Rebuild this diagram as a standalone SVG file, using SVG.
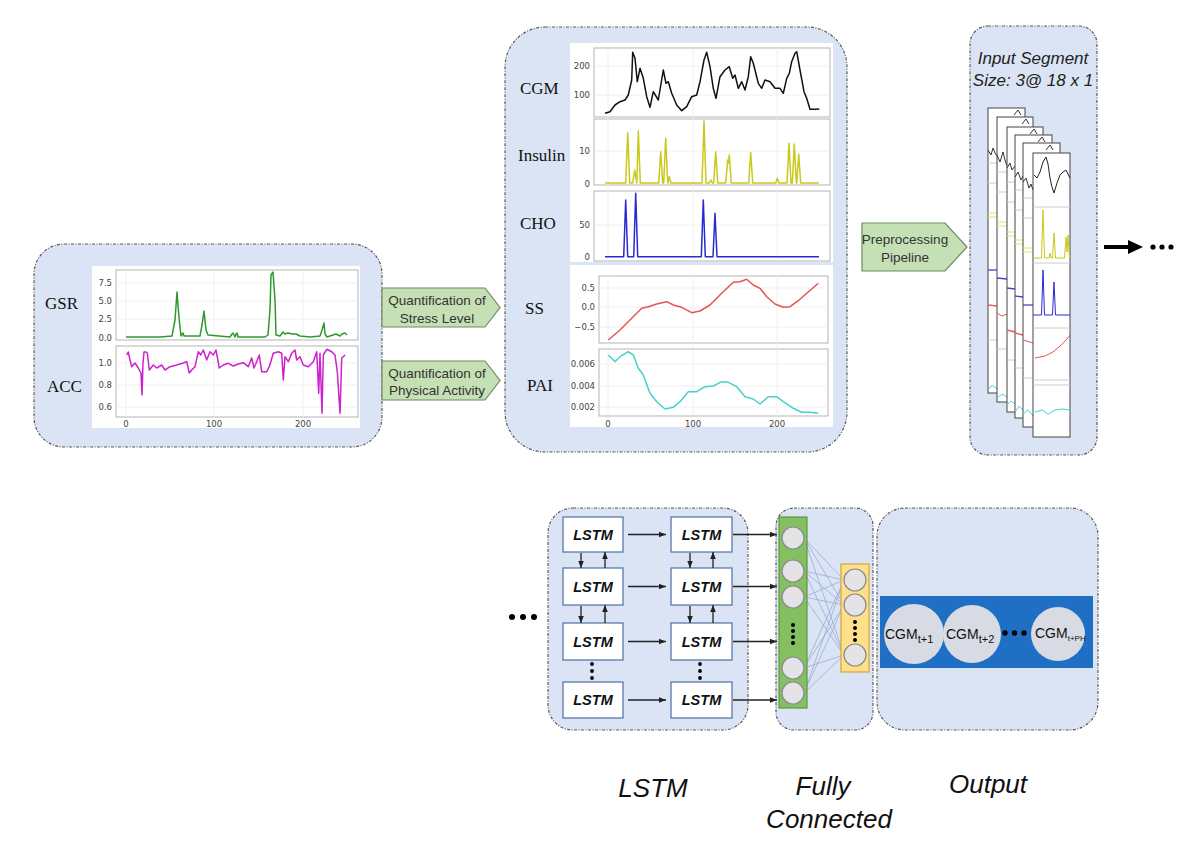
<svg xmlns="http://www.w3.org/2000/svg" width="1200" height="846" viewBox="0 0 1200 846">
<style>
.panel{fill:#dbe4f4;stroke:#5a5a5a;stroke-width:1.2;stroke-dasharray:3 1.5 1 1.5}
.bg{fill:#fff}
.frame{fill:#fff;stroke:#b3b3b3;stroke-width:1}
.grid{stroke:#ececec;stroke-width:0.8}
.tick{font-family:"DejaVu Sans",sans-serif;font-size:8.5px;fill:#444}
.tr{text-anchor:end}
.tm{text-anchor:middle}
.ylab{font-family:"Liberation Serif",serif;font-size:17px;fill:#111}
.pent{fill:#c5e0b4;stroke:#6e8a62;stroke-width:1.2}
.ptxt{font-family:"Liberation Sans",Arial,sans-serif;font-size:13.5px;fill:#333;text-anchor:middle}
.lbox{fill:#fff;stroke:#5a78a8;stroke-width:1.3}
.ltxt{font-family:"Liberation Sans",Arial,sans-serif;font-weight:bold;font-style:italic;font-size:14.5px;text-anchor:middle;fill:#111}
.conn{stroke:#222;stroke-width:1.3;fill:none;marker-end:url(#ah)}
.neu{fill:#e4e4e6;stroke:#8a8a8a;stroke-width:1.2}
.fcl{stroke:#8ea5cf;stroke-width:0.7}
.cap{font-family:"Liberation Sans",Arial,sans-serif;font-style:italic;font-size:26px;text-anchor:middle;fill:#111}
.seg{font-family:"Liberation Sans",Arial,sans-serif;font-style:italic;font-size:17px;text-anchor:middle;fill:#222}
.cgm{font-family:"Liberation Sans",Arial,sans-serif;font-size:14px;fill:#111}
.sf{fill:#fff;stroke:#444;stroke-width:1}
.ln{fill:none;stroke-width:1.5;stroke-linejoin:round}
.thin{fill:none;stroke-width:1}
</style>
<defs>
<marker id="ah" markerUnits="userSpaceOnUse" viewBox="0 0 10 10" markerWidth="7" markerHeight="7" refX="10" refY="5" orient="auto">
<path d="M0,1 L10,5 L0,9 z" fill="#222"/>
</marker>
</defs>
<rect width="1200" height="846" fill="#fff"/>

<!-- Left panel: raw signals -->
<g id="raw-signals">
<rect class="panel" x="34" y="244" width="348" height="203" rx="30"/>
<rect class="bg" x="92" y="266" width="268" height="162"/>
<rect class="frame" x="116" y="270" width="242" height="70"/>
<rect class="frame" x="116" y="346" width="242" height="71"/>
<g class="grid">
<line x1="126" y1="270" x2="126" y2="417"/><line x1="214" y1="270" x2="214" y2="417"/><line x1="303" y1="270" x2="303" y2="417"/>
<line x1="116" y1="283" x2="358" y2="283"/><line x1="116" y1="301" x2="358" y2="301"/><line x1="116" y1="319" x2="358" y2="319"/>
<line x1="116" y1="363" x2="358" y2="363"/><line x1="116" y1="385" x2="358" y2="385"/><line x1="116" y1="407" x2="358" y2="407"/>
</g>
<text class="ylab" x="45" y="309">GSR</text>
<text class="ylab" x="47" y="392">ACC</text>
<g class="tick tr">
<text x="112" y="286">7.5</text><text x="112" y="304">5.0</text><text x="112" y="322">2.5</text><text x="112" y="341">0.0</text>
<text x="112" y="366">1.0</text><text x="112" y="388">0.8</text><text x="112" y="410">0.6</text>
</g>
<g class="tick tm"><text x="126" y="427">0</text><text x="214" y="427">100</text><text x="303" y="427">200</text></g>
<polyline class="ln" stroke="#2e9a2e" points="126,337 160,337 172,336 175,320 177,292 179,318 181,336 183,333 184,336 200,336 202,325 204,311 206,330 208,335 230,337 232,334 233,333 235,337 236,334 237,333 238,337 265,337 268,335 270,310 271,275 273,272 275,300 276,335 280,336 283,332 285,334 288,333 292,334 296,334 300,336 310,337 320,336 322,330 324,323 325,334 327,337 330,336 336,334 340,336 342,334 345,333 347,335"/>
<polyline class="ln" stroke="#cc22cc" points="126.7,355 128.3,352 130,360 131.7,366.7 135,363 138.3,368 141,373 142,395 143,363 144,352 146,352 147.3,353 149.3,370 153.3,365 156.7,368 161.7,365 165,370 170,366.7 176.7,365 183.3,363 186.7,361.7 189.3,373 191.7,370 195,366.7 198.3,351.7 200.7,355 203.3,350 206.7,360 210,351.7 213.3,355 216,350 219.3,368 223.3,365 228.3,363.3 233.3,366 238.3,364 243.3,362.7 248.3,366.7 251.7,358 254,368 256.7,361.7 259.3,355 261.7,371.7 266.7,371.7 269.3,366.7 273.3,353.3 278.3,351.7 281.7,353.3 283.3,380 285,356.7 288.3,361.7 291.7,353.3 295,350 296.7,360 300,356.7 303.3,365 308.3,366.7 313.3,361.7 316.7,351.7 318.7,393.3 320,353.3 322,413.3 323.3,355 326.7,349.3 331.7,351.7 335,355 337.3,371.7 340,413.3 341.7,358.3 345,355"/>
</g>

<!-- Quantification arrows -->
<g id="quant-stress">
<polygon class="pent" points="382,288 485,288 500,307.5 485,327 382,327"/>
<text class="ptxt" x="437" y="304.5">Quantification of</text>
<text class="ptxt" x="437" y="322.5">Stress Level</text>
</g>
<g id="quant-activity">
<polygon class="pent" points="382,361 485,361 500,380.5 485,400 382,400"/>
<text class="ptxt" x="437" y="377.5">Quantification of</text>
<text class="ptxt" x="437" y="395">Physical Activity</text>
</g>

<!-- Middle panel: features -->
<g id="features">
<rect class="panel" x="505" y="27" width="342" height="425" rx="40"/>
<rect class="bg" x="570" y="43" width="263" height="219"/>
<rect class="bg" x="570" y="265" width="263" height="162"/>
<rect class="frame" x="594" y="48" width="236" height="69"/>
<rect class="frame" x="594" y="119" width="236" height="66"/>
<rect class="frame" x="594" y="191" width="236" height="70"/>
<rect class="frame" x="599" y="276" width="229" height="67"/>
<rect class="frame" x="599" y="349" width="229" height="67"/>
<g class="grid">
<line x1="608" y1="48" x2="608" y2="261"/><line x1="693" y1="48" x2="693" y2="261"/><line x1="777" y1="48" x2="777" y2="261"/>
<line x1="608" y1="276" x2="608" y2="416"/><line x1="693" y1="276" x2="693" y2="416"/><line x1="777" y1="276" x2="777" y2="416"/>
<line x1="594" y1="66" x2="830" y2="66"/><line x1="594" y1="95" x2="830" y2="95"/>
<line x1="594" y1="151" x2="830" y2="151"/><line x1="594" y1="225" x2="830" y2="225"/>
<line x1="599" y1="288" x2="828" y2="288"/><line x1="599" y1="307" x2="828" y2="307"/><line x1="599" y1="327" x2="828" y2="327"/>
<line x1="599" y1="364" x2="828" y2="364"/><line x1="599" y1="386" x2="828" y2="386"/><line x1="599" y1="407" x2="828" y2="407"/>
</g>
<text class="ylab" x="520" y="94">CGM</text>
<text class="ylab" x="518" y="161">Insulin</text>
<text class="ylab" x="520" y="229">CHO</text>
<text class="ylab" x="525" y="314">SS</text>
<text class="ylab" x="527" y="391">PAI</text>
<g class="tick tr">
<text x="590" y="69">200</text><text x="590" y="98">100</text>
<text x="590" y="154">10</text><text x="590" y="187">0</text>
<text x="590" y="228">50</text><text x="590" y="260">0</text>
<text x="595" y="291">0.5</text><text x="595" y="310">0.0</text><text x="595" y="330">−0.5</text>
<text x="595" y="367">0.006</text><text x="595" y="389">0.004</text><text x="595" y="410">0.002</text>
</g>
<g class="tick tm"><text x="608" y="427">0</text><text x="693" y="427">100</text><text x="777" y="427">200</text></g>
<polyline class="ln" stroke="#111" points="605,113.3 610,111.7 615,105 620,101.7 625,100 628.3,95 631.7,80 632.7,52.3 635,58.3 637.3,81.7 640,68.3 643.3,78.3 646.7,96.7 650,107.3 653.3,91.7 658.3,100 663.3,70 666,83.3 668.3,81.7 671.7,93.3 676.7,105 681.7,110.7 686.7,106.7 691.7,96.7 696.7,95 700,81.7 704,60 706.7,52.3 710,66.7 713.3,88.3 716,98.3 720,76.7 725,70 729.3,66.7 732.7,78.3 735,75 738.3,88.3 741.7,81.7 745,90 748.3,76.7 750.7,56.7 753.3,63.3 758.3,83.3 761.7,88.3 765,80 770,81.7 775,88.3 780,88.3 783.3,93.3 786.7,78.3 789.3,73.3 791.7,61.7 795,53.3 796.7,51.7 800,70 804,91.7 806.7,98.3 810,109.3 815,109.3 819.3,109"/>
<polyline class="ln" stroke="#c9c91a" points="605,183 625.7,183 627.7,132.7 629.7,183 632.7,183 634.7,170 636.7,183 636.8,183 638.3,131 640.3,183 658.7,183 660.7,151.7 662.7,183 663.7,183 665.7,138.3 667.7,183 667.8,183 669.3,176.7 671,183 702,183 704,121 706,183 709.5,183 711,180 712.5,183 713.7,183 715.7,151.7 717.7,183 725.7,183 727.7,160 728.5,163 729.3,155 731.3,183 748.7,183 750.7,152.7 752.7,183 775.7,183 777.3,178.3 779,183 787,183 789,143.3 791,183 792.3,183 794.3,144 796.3,183 796.7,183 798.7,154.3 800.7,183 819,183"/>
<polyline class="ln" stroke="#2a2ad0" points="605,256.7 623.7,256.7 625.7,200 627.7,256.7 633.7,256.7 635.7,193.3 637.7,256.7 701.3,256.7 703.3,200 705.3,256.7 713,256.7 715,213.3 717,256.7 819,256.7"/>
<polyline class="ln" stroke="#e25555" points="608.3,340 620,330 631.7,318.3 641.7,308.3 648.3,306.7 656.7,304 666.7,301.7 673.3,305 681.7,307.3 691.7,312.7 700,311 710,305 721.7,293.3 733.3,282.3 740,281.7 746.7,279.3 753.3,285 760,288.3 766.7,296.7 775,304 783.3,307.3 790,306.7 798.3,300.7 806.7,293.3 818.3,283.3"/>
<polyline class="ln" stroke="#45d2c8" points="608.3,355 615,361.7 620,356.7 628.3,351.7 633.3,355 638.3,368.3 643.3,375 650,393.3 656.7,401.7 665,409 673.3,407.3 680,401.7 688.3,391.7 696.7,391.7 705,386.7 713.3,386 721.7,381.7 728.3,382.3 736.7,386.7 745,396.7 753.3,399 760,404 768.3,396.7 776.7,396.7 783.3,401.7 793.3,408.3 801.7,412.3 810,412.3 818.3,413.3"/>
</g>

<!-- Preprocessing -->
<g id="preprocessing">
<polygon class="pent" points="862,223 945,223 967,247 945,271 862,271"/>
<text class="ptxt" x="905" y="244">Preprocessing</text>
<text class="ptxt" x="905" y="262">Pipeline</text>
</g>

<!-- Input segments -->
<g id="input-segment">
<rect class="panel" x="970" y="26" width="127" height="429" rx="18"/>
<text class="seg" x="1033" y="64">Input Segment</text>
<text class="seg" x="1033" y="86">Size: 3@ 18 x 1</text>
<g id="seg-back">
<rect class="sf" x="988" y="108" width="37" height="285"/>
<polyline class="thin" stroke="#333" points="1014,115 1018,110 1021,115"/>
<polyline class="thin" stroke="#333" points="988,150 991,155 993,148 995,153 997,156"/>
<line x1="988" y1="163" x2="997" y2="163" stroke="#ccc"/><line x1="988" y1="183" x2="997" y2="183" stroke="#ccc"/>
<line x1="988" y1="213" x2="997" y2="213" stroke="#e2e270"/><line x1="988" y1="217" x2="997" y2="217" stroke="#e2e270"/>
<line x1="988" y1="270" x2="997" y2="270" stroke="#4646d0" stroke-width="1.3"/>
<line x1="988" y1="305" x2="997" y2="306" stroke="#e06060" stroke-width="1.3"/>
<line x1="988" y1="340" x2="997" y2="340" stroke="#ccc"/>
<polyline class="thin" stroke="#50d6cc" stroke-width="1.3" points="988,390 992,385 997,389"/>

<rect class="sf" x="997" y="117" width="36" height="285"/>
<polyline class="thin" stroke="#333" points="1022,124 1026,119 1029,124"/>
<polyline class="thin" stroke="#333" points="997,155 1000,162 1003,152 1005,160 1007,166"/>
<line x1="997" y1="172" x2="1007" y2="172" stroke="#ccc"/><line x1="997" y1="192" x2="1007" y2="192" stroke="#ccc"/>
<line x1="997" y1="222" x2="1007" y2="222" stroke="#e2e270"/><line x1="997" y1="226" x2="1007" y2="226" stroke="#e2e270"/>
<line x1="997" y1="278" x2="1007" y2="279" stroke="#4646d0" stroke-width="1.3"/>
<polyline class="thin" stroke="#e06060" stroke-width="1.3" points="997,313 1002,316 1007,314"/>
<line x1="997" y1="349" x2="1007" y2="349" stroke="#ccc"/>
<polyline class="thin" stroke="#50d6cc" stroke-width="1.3" points="997,398 1002,394 1007,397"/>

<rect class="sf" x="1007" y="127" width="36" height="285"/>
<polyline class="thin" stroke="#333" points="1030,134 1034,129 1037,134"/>
<polyline class="thin" stroke="#333" points="1007,168 1010,163 1012,170 1015,166"/>
<line x1="1007" y1="182" x2="1015" y2="182" stroke="#ccc"/><line x1="1007" y1="202" x2="1015" y2="202" stroke="#ccc"/>
<line x1="1007" y1="232" x2="1015" y2="232" stroke="#e2e270"/><line x1="1007" y1="236" x2="1015" y2="236" stroke="#e2e270"/>
<line x1="1007" y1="288" x2="1015" y2="289" stroke="#4646d0" stroke-width="1.3"/>
<line x1="1007" y1="330" x2="1015" y2="332" stroke="#e06060" stroke-width="1.3"/>
<line x1="1007" y1="360" x2="1015" y2="360" stroke="#ccc"/>
<polyline class="thin" stroke="#50d6cc" stroke-width="1.3" points="1007,405 1011,401 1015,404"/>

<rect class="sf" x="1015" y="135" width="37" height="283"/>
<polyline class="thin" stroke="#333" points="1038,142 1042,137 1045,142"/>
<polyline class="thin" stroke="#333" points="1015,177 1018,172 1021,180 1023,176"/>
<line x1="1015" y1="190" x2="1023" y2="190" stroke="#ccc"/><line x1="1015" y1="210" x2="1023" y2="210" stroke="#ccc"/>
<line x1="1015" y1="240" x2="1023" y2="240" stroke="#e2e270"/><line x1="1015" y1="244" x2="1023" y2="244" stroke="#e2e270"/>
<line x1="1015" y1="296" x2="1023" y2="297" stroke="#4646d0" stroke-width="1.3"/>
<line x1="1015" y1="333" x2="1023" y2="335" stroke="#e06060" stroke-width="1.3"/>
<line x1="1015" y1="368" x2="1023" y2="368" stroke="#ccc"/>
<polyline class="thin" stroke="#50d6cc" stroke-width="1.3" points="1015,412 1019,406 1023,410"/>

<rect class="sf" x="1023" y="143" width="37" height="284"/>
<polyline class="thin" stroke="#333" points="1046,150 1050,145 1053,150"/>
<polyline class="thin" stroke="#333" points="1023,182 1026,178 1029,188 1031,184 1033,190"/>
<line x1="1023" y1="198" x2="1033" y2="198" stroke="#ccc"/><line x1="1023" y1="218" x2="1033" y2="218" stroke="#ccc"/>
<line x1="1023" y1="248" x2="1033" y2="248" stroke="#e2e270"/><line x1="1023" y1="252" x2="1033" y2="252" stroke="#e2e270"/>
<line x1="1023" y1="305" x2="1033" y2="305" stroke="#4646d0" stroke-width="1.3"/>
<line x1="1023" y1="340" x2="1033" y2="343" stroke="#e06060" stroke-width="1.3"/>
<line x1="1023" y1="378" x2="1033" y2="378" stroke="#ccc"/>
<polyline class="thin" stroke="#50d6cc" stroke-width="1.3" points="1023,414 1028,410 1033,416"/>
</g>
<g id="seg-front">
<rect class="sf" x="1033" y="153" width="37" height="284"/>
<polyline class="thin" stroke="#222" stroke-width="1.2" points="1034,175 1037,178 1040,172 1043,162 1046,157 1048,164 1050,178 1052,187 1054,193 1057,183 1060,175 1063,172 1066,170 1070,178"/>
<line x1="1033" y1="207" x2="1070" y2="207" stroke="#ccc"/>
<polyline class="thin" stroke="#c9c91a" stroke-width="1.2" points="1033,258 1041.5,258 1043,210 1044.5,258 1049,258 1050,253 1051,258 1052.5,258 1054,233 1055.5,258 1064.5,258 1066,237 1067,252 1068,235 1069.5,258 1070,258"/>
<line x1="1033" y1="263" x2="1070" y2="263" stroke="#ccc"/>
<polyline class="thin" stroke="#2a2ad0" stroke-width="1.2" points="1033,315 1041.5,315 1043,270 1044.5,315 1052.5,315 1054,282 1055.5,315 1070,315"/>
<line x1="1033" y1="328" x2="1070" y2="328" stroke="#ccc"/>
<polyline class="thin" stroke="#e25555" stroke-width="1.2" points="1035,358 1045,356 1053,352 1060,346 1066,340 1070,335"/>
<line x1="1033" y1="380" x2="1070" y2="380" stroke="#ccc"/><line x1="1033" y1="385" x2="1070" y2="385" stroke="#ccc"/>
<polyline class="thin" stroke="#45d2c8" stroke-width="1.2" points="1035,412 1042,410 1048,414 1055,410 1062,409 1070,410"/>
</g>
</g>

<!-- continuation arrow -->
<g id="continue-right">
<line x1="1104" y1="247" x2="1130" y2="247" stroke="#000" stroke-width="4"/>
<polygon points="1128,240 1143,247 1128,254" fill="#000"/>
<circle cx="1153" cy="247" r="2.6" fill="#000"/><circle cx="1162" cy="247" r="2.6" fill="#000"/><circle cx="1171" cy="247" r="2.6" fill="#000"/>
</g>

<!-- Bottom: LSTM -->
<g id="continue-left">
<circle cx="512" cy="617" r="3" fill="#000"/><circle cx="523" cy="617" r="3" fill="#000"/><circle cx="534" cy="617" r="3" fill="#000"/>
</g>
<g id="lstm-panel">
<rect class="panel" x="548" y="508" width="200" height="222" rx="25"/>
</g>
<g id="lstm-1-1"><rect class="lbox" x="563" y="517" width="60" height="35"/><text class="ltxt" x="593" y="539.5">LSTM</text></g>
<g id="lstm-1-2"><rect class="lbox" x="563" y="568" width="60" height="37"/><text class="ltxt" x="593" y="591.5">LSTM</text></g>
<g id="lstm-1-3"><rect class="lbox" x="563" y="623" width="60" height="37"/><text class="ltxt" x="593" y="646.5">LSTM</text></g>
<g id="lstm-1-4"><rect class="lbox" x="563" y="682" width="60" height="36"/><text class="ltxt" x="593" y="705">LSTM</text></g>
<g id="lstm-2-1"><rect class="lbox" x="671" y="517" width="61" height="35"/><text class="ltxt" x="701.5" y="539.5">LSTM</text></g>
<g id="lstm-2-2"><rect class="lbox" x="671" y="568" width="61" height="37"/><text class="ltxt" x="701.5" y="591.5">LSTM</text></g>
<g id="lstm-2-3"><rect class="lbox" x="671" y="623" width="61" height="37"/><text class="ltxt" x="701.5" y="646.5">LSTM</text></g>
<g id="lstm-2-4"><rect class="lbox" x="671" y="682" width="61" height="36"/><text class="ltxt" x="701.5" y="705">LSTM</text></g>
<g id="lstm-dots" fill="#000">
<circle cx="592" cy="664" r="1.9"/><circle cx="592" cy="671" r="1.9"/><circle cx="592" cy="678" r="1.9"/>
<circle cx="700" cy="664" r="1.9"/><circle cx="700" cy="671" r="1.9"/><circle cx="700" cy="678" r="1.9"/>
</g>

<!-- Fully connected -->
<g id="fc-panel">
<rect class="panel" x="776" y="508" width="97" height="222" rx="18"/>
<g class="fcl">
<line x1="804" y1="538" x2="844" y2="580"/><line x1="804" y1="538" x2="844" y2="605"/><line x1="804" y1="538" x2="844" y2="655"/>
<line x1="804" y1="571" x2="844" y2="580"/><line x1="804" y1="571" x2="844" y2="605"/><line x1="804" y1="571" x2="844" y2="655"/>
<line x1="804" y1="597" x2="844" y2="580"/><line x1="804" y1="597" x2="844" y2="605"/><line x1="804" y1="597" x2="844" y2="655"/>
<line x1="804" y1="668" x2="844" y2="580"/><line x1="804" y1="668" x2="844" y2="605"/><line x1="804" y1="668" x2="844" y2="655"/>
<line x1="804" y1="693" x2="844" y2="580"/><line x1="804" y1="693" x2="844" y2="605"/><line x1="804" y1="693" x2="844" y2="655"/>
</g>
<rect x="779" y="517" width="28" height="191" fill="#84c062" stroke="#5b9840" stroke-width="1.2"/>
<circle class="neu" cx="793" cy="538" r="11"/><circle class="neu" cx="793" cy="571" r="11"/><circle class="neu" cx="793" cy="597" r="11"/>
<circle class="neu" cx="793" cy="668" r="11"/><circle class="neu" cx="793" cy="693" r="11"/>
<g fill="#000"><circle cx="793" cy="625" r="2"/><circle cx="793" cy="631" r="2"/><circle cx="793" cy="637" r="2"/><circle cx="793" cy="643" r="2"/></g>
<rect x="841" y="564" width="28" height="108" fill="#ffe08a" stroke="#d7a23c" stroke-width="1.2"/>
<circle class="neu" cx="855" cy="580" r="11"/><circle class="neu" cx="855" cy="605" r="11"/><circle class="neu" cx="855" cy="655" r="11"/>
<g fill="#000"><circle cx="855" cy="622" r="2"/><circle cx="855" cy="628" r="2"/><circle cx="855" cy="634" r="2"/><circle cx="855" cy="640" r="2"/></g>
</g>

<!-- Output -->
<g id="output-panel">
<rect class="panel" x="877" y="508" width="221" height="222" rx="28"/>
<rect x="880" y="596" width="213" height="72" fill="#1f6fc5"/>
<circle cx="914" cy="634" r="30" fill="#d8dbe4"/>
<circle cx="972" cy="634" r="29" fill="#d8dbe4"/>
<circle cx="1058" cy="634" r="27" fill="#d8dbe4"/>
<text class="cgm" x="885" y="639">CGM<tspan font-size="11" dy="4">t+1</tspan></text>
<text class="cgm" x="946" y="639">CGM<tspan font-size="11" dy="4">t+2</tspan></text>
<text class="cgm" x="1035" y="638" font-size="12">CGM<tspan font-size="8" dy="3">t+PH</tspan></text>
<g fill="#000"><circle cx="1005" cy="633" r="2.7"/><circle cx="1014.5" cy="633" r="2.7"/><circle cx="1024" cy="633" r="2.7"/></g>
</g>

<!-- Connectors -->
<g id="connectors">
<line class="conn" x1="628" y1="534.5" x2="666" y2="534.5"/>
<line class="conn" x1="628" y1="586.5" x2="666" y2="586.5"/>
<line class="conn" x1="628" y1="641.5" x2="666" y2="641.5"/>
<line class="conn" x1="628" y1="700" x2="666" y2="700"/>
<line class="conn" x1="733" y1="534.5" x2="777" y2="534.5"/>
<line class="conn" x1="733" y1="586.5" x2="777" y2="586.5"/>
<line class="conn" x1="733" y1="641.5" x2="777" y2="641.5"/>
<line class="conn" x1="733" y1="700" x2="777" y2="700"/>
<line class="conn" x1="581" y1="553" x2="581" y2="568"/>
<line class="conn" x1="605" y1="568" x2="605" y2="552"/>
<line class="conn" x1="690" y1="553" x2="690" y2="568"/>
<line class="conn" x1="713" y1="568" x2="713" y2="552"/>
<line class="conn" x1="581" y1="606" x2="581" y2="623"/>
<line class="conn" x1="605" y1="623" x2="605" y2="605"/>
<line class="conn" x1="690" y1="606" x2="690" y2="623"/>
<line class="conn" x1="713" y1="623" x2="713" y2="605"/>
</g>

<!-- Captions -->
<g id="captions">
<text class="cap" x="653" y="797">LSTM</text>
<text class="cap" x="823" y="795">Fully</text>
<text class="cap" x="829" y="828">Connected</text>
<text class="cap" x="988" y="793">Output</text>
</g>
</svg>
